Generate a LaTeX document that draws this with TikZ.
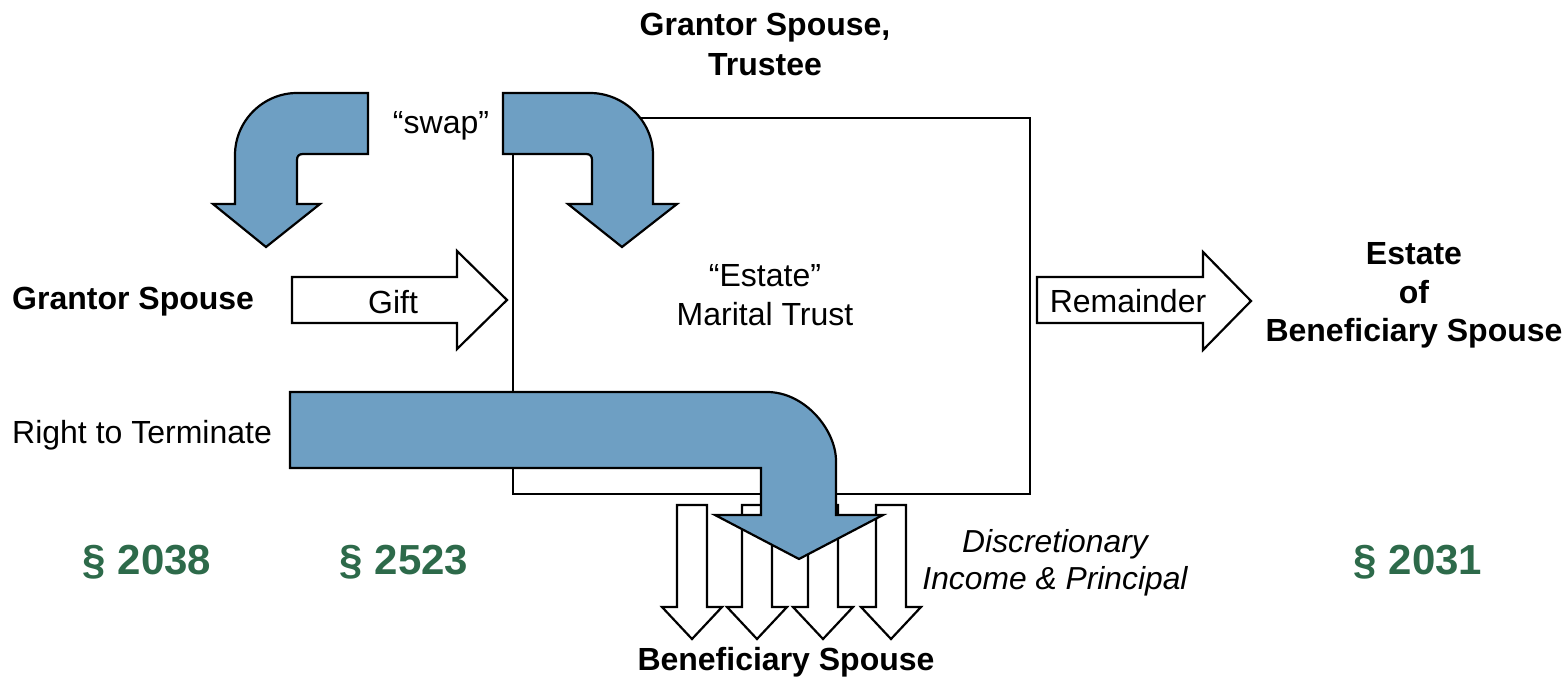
\documentclass[tikz,border=0pt]{standalone}
\usepackage{fontspec}
\setmainfont{Liberation Sans}
\definecolor{arrowblue}{HTML}{6E9FC3}
\definecolor{secgreen}{HTML}{2D6A4A}
\begin{document}
\begin{tikzpicture}[x=1pt,y=-1pt,
  line join=miter,
  shapeline/.style={draw=black,line width=2.2pt},
  bluearrow/.style={shapeline,fill=arrowblue},
  whitearrow/.style={shapeline,fill=white},
  txt/.style={inner sep=0pt,font=\fontsize{32}{38}\selectfont},
  btxt/.style={inner sep=0pt,font=\fontsize{32}{38}\selectfont\bfseries},
  itxt/.style={inner sep=0pt,font=\fontsize{31.8}{38}\selectfont\itshape},
  sectxt/.style={inner sep=0pt,text=secgreen,font=\fontsize{42}{48}\selectfont\bfseries}]
\useasboundingbox (0,0) rectangle (1566,677);
% main box
\draw[shapeline,fill=white] (513,118) rectangle (1030,494);
% white down arrows
\foreach \c in {692,757,823,891}{
  \draw[whitearrow] (\c-15,505) -- (\c+15,505) -- (\c+15,607) -- (\c+30,607)
    -- (\c,639) -- (\c-30,607) -- (\c-15,607) -- cycle;
}
% left bent arrow
\draw[bluearrow] (368,93) -- (297,93) .. controls (263,93) and (235,121) .. (235,155)
  -- (235,204) -- (213,204) -- (266,247) -- (320,204) -- (297,204) -- (297,160)
  .. controls (297,156) and (299,154) .. (303,154) -- (368,154) -- cycle;
% right bent arrow
\draw[bluearrow] (503,93) -- (590,93) .. controls (624,93) and (653,121) .. (653,155)
  -- (653,204) -- (677,204) -- (622,247) -- (568,204) -- (592,204) -- (592,160)
  .. controls (592,156) and (590,154) .. (586,154) -- (503,154) -- cycle;
% gift arrow
\draw[whitearrow] (292,277) -- (457,277) -- (457,251) -- (507,300) -- (457,349)
  -- (457,323) -- (292,323) -- cycle;
% remainder arrow
\draw[whitearrow] (1037,277) -- (1203,277) -- (1203,252) -- (1251,301) -- (1203,350)
  -- (1203,323) -- (1037,323) -- cycle;
% big terminate arrow
\draw[bluearrow] (290,392) -- (767,392) .. controls (805,392) and (836,430) .. (836,461)
  -- (836,515) -- (883,515) -- (799,559) -- (715,515) -- (761,515) -- (761,468)
  -- (290,468) -- cycle;
% texts
\node[btxt,anchor=base] (gst1) at (765,36) {Grantor Spouse,};
\node[btxt,anchor=base] (gst2) at (765,75) {Trustee};
\node[txt,anchor=base] (swap) at (441,133) {“swap”};
\node[btxt,anchor=base west] (gs) at (12,309) {Grantor Spouse};
\node[txt,anchor=base] (gift) at (393,313) {Gift};
\node[txt,anchor=base] (est1) at (765,286) {“Estate”};
\node[txt,anchor=base] (est2) at (765,325) {Marital Trust};
\node[txt,anchor=base] (rem) at (1128,312) {Remainder};
\node[btxt,anchor=base] (ebs1) at (1414,264) {Estate};
\node[btxt,anchor=base] (ebs2) at (1414,303) {of};
\node[btxt,anchor=base] (ebs3) at (1414,341) {Beneficiary Spouse};
\node[txt,anchor=base west] (rtt) at (12,443) {Right to Terminate};
\node[sectxt,anchor=base] (s2038) at (147,574) {§ 2038};
\node[sectxt,anchor=base] (s2523) at (404,574) {§ 2523};
\node[sectxt,anchor=base] (s2031) at (1418,574) {§ 2031};
\node[itxt,anchor=base] (disc1) at (1055,552) {Discretionary};
\node[itxt,anchor=base] (disc2) at (1055,589) {Income \& Principal};
\node[btxt,anchor=base] (bs) at (786,670) {Beneficiary Spouse};
\end{tikzpicture}
\end{document}
